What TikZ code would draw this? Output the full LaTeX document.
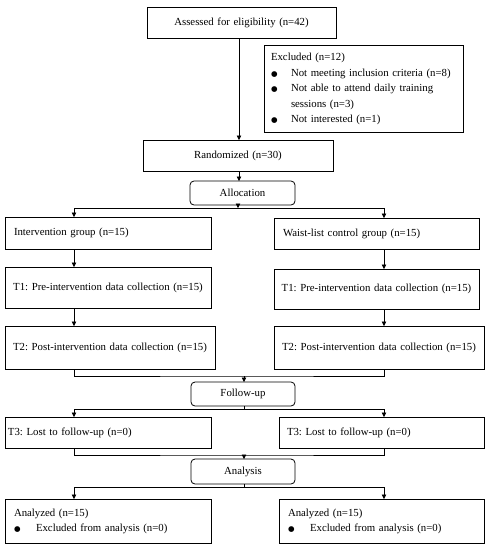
\documentclass[tikz,border=0pt]{standalone}
\usepackage{fontspec}
\setmainfont{Liberation Serif}
\newfontfamily\dejavu{DejaVu Sans}
\usetikzlibrary{arrows.meta}
\newcommand{\bigbul}{{\dejavu\fontsize{7.5}{7.5}\selectfont ●}}
\frenchspacing
\begin{document}
\begin{tikzpicture}[x=1pt,y=-1pt,
  every node/.style={font=\fontsize{10.8}{15.5}\selectfont},
  box/.style={draw, line width=0.8pt, anchor=north west, inner ysep=0pt, outer sep=0pt},
  rbox/.style={box, rounded corners=4pt},
  arr/.style={line width=0.6pt, -{Triangle[length=4.5pt,width=4.5pt]}},
  ln/.style={line width=0.6pt}]
\useasboundingbox (0,0) rectangle (490,550);

% coordinates for connector columns
\coordinate (c1) at (239,0);
\coordinate (colL) at (74,0);
\coordinate (colR) at (384,0);
\coordinate (s1) at (238,208);
\coordinate (m1) at (244,376);
\coordinate (s2) at (244,409);
\coordinate (m2) at (244,455);
\coordinate (s3) at (244,487);

% boxes
\node[box, inner xsep=0pt, text width=189pt, minimum height=31pt, align=center] (assess) at (147,7) {Assessed for eligibility (n=42)};
\node[box, inner xsep=7pt, text width=185pt, minimum height=87pt, align=left] (excl) at (264,45)
 {\begin{tabular}{@{}p{20pt}@{}l@{}}
  \multicolumn{2}{@{}l@{}}{Excluded (n=12)}\\
  \bigbul & Not meeting inclusion criteria (n=8)\\
  \bigbul & Not able to attend daily training\\
   & sessions (n=3)\\
  \bigbul & Not interested (n=1)
  \end{tabular}};
\node[box, inner xsep=0pt, text width=190pt, minimum height=31pt, align=center] (rand) at (143,140) {Randomized (n=30)};
\node[rbox, inner xsep=0pt, text width=105pt, minimum height=24pt, align=center] (alloc) at (190,181) {Allocation};

\node[box, inner xsep=9pt, text width=188pt, minimum height=32pt, align=left] (int) at (5,217) {Intervention group (n=15)};
\node[box, inner xsep=9pt, text width=187pt, minimum height=31pt, align=left] (wl) at (274,218) {Waist-list control group (n=15)};

\node[box, inner xsep=0pt, text width=206pt, minimum height=41pt, align=center] (t1l) at (5,267) {T1: Pre-intervention data collection (n=15)};
\node[box, inner xsep=0pt, text width=205pt, minimum height=40pt, align=center] (t1r) at (274,269) {T1: Pre-intervention data collection (n=15)};

\node[box, inner xsep=0pt, text width=210pt, minimum height=43pt, align=center] (t2l) at (5,326) {T2: Post-intervention data collection (n=15)};
\node[box, inner xsep=0pt, text width=210pt, minimum height=43pt, align=center] (t2r) at (274,326) {T2: Post-intervention data collection (n=15)};

\node[rbox, inner xsep=0pt, text width=104pt, minimum height=24pt, align=center] (fu) at (191,382) {Follow-up};

\node[box, inner xsep=3pt, text width=200pt, minimum height=31pt, align=left] (t3l) at (5,417) {T3: Lost to follow-up (n=0)};
\node[box, inner xsep=8pt, text width=189pt, minimum height=31pt, align=left] (t3r) at (279,417) {T3: Lost to follow-up (n=0)};

\node[rbox, inner xsep=0pt, text width=104pt, minimum height=25pt, align=center] (an) at (191,459) {Analysis};

\node[box, inner xsep=9pt, text width=188pt, minimum height=44pt, align=left] (al) at (5,499)
 {\begin{tabular}{@{}p{22pt}@{}l@{}}
  \multicolumn{2}{@{}l@{}}{Analyzed (n=15)}\\
  \bigbul & Excluded from analysis (n=0)
  \end{tabular}};
\node[box, inner xsep=9pt, text width=187pt, minimum height=44pt, align=left] (ar) at (279,499)
 {\begin{tabular}{@{}p{22pt}@{}l@{}}
  \multicolumn{2}{@{}l@{}}{Analyzed (n=15)}\\
  \bigbul & Excluded from analysis (n=0)
  \end{tabular}};

% connectors
\draw[arr] (assess.south -| c1) -- (rand.north -| c1);
\draw[arr] (rand.south -| c1) -- (alloc.north -| c1);
\draw[arr] (alloc.south -| s1) -- (s1);
\draw[arr] (s1) -| (int.north -| colL);
\draw[arr] (s1) -| (wl.north -| colR);
\draw[arr] (int.south -| colL) -- (t1l.north -| colL);
\draw[arr] (t1l.south -| colL) -- (t2l.north -| colL);
\draw[arr] (wl.south -| colR) -- (t1r.north -| colR);
\draw[arr] (t1r.south -| colR) -- (t2r.north -| colR);

\draw[ln] (t2l.south -| colL) |- (m1) -| (t2r.south -| colR);
\draw[arr] (m1) -- (fu.north -| m1);
\draw[ln] (fu.south -| s2) -- (s2);
\draw[arr] (s2) -| (t3l.north -| colL);
\draw[arr] (s2) -| (t3r.north -| colR);

\draw[ln] (t3l.south -| colL) |- (m2) -| (t3r.south -| colR);
\draw[arr] (m2) -- (an.north -| m2);
\draw[ln] (an.south -| s3) -- (s3);
\draw[arr] (s3) -| (al.north -| colL);
\draw[arr] (s3) -| (ar.north -| colR);
\end{tikzpicture}
\end{document}
